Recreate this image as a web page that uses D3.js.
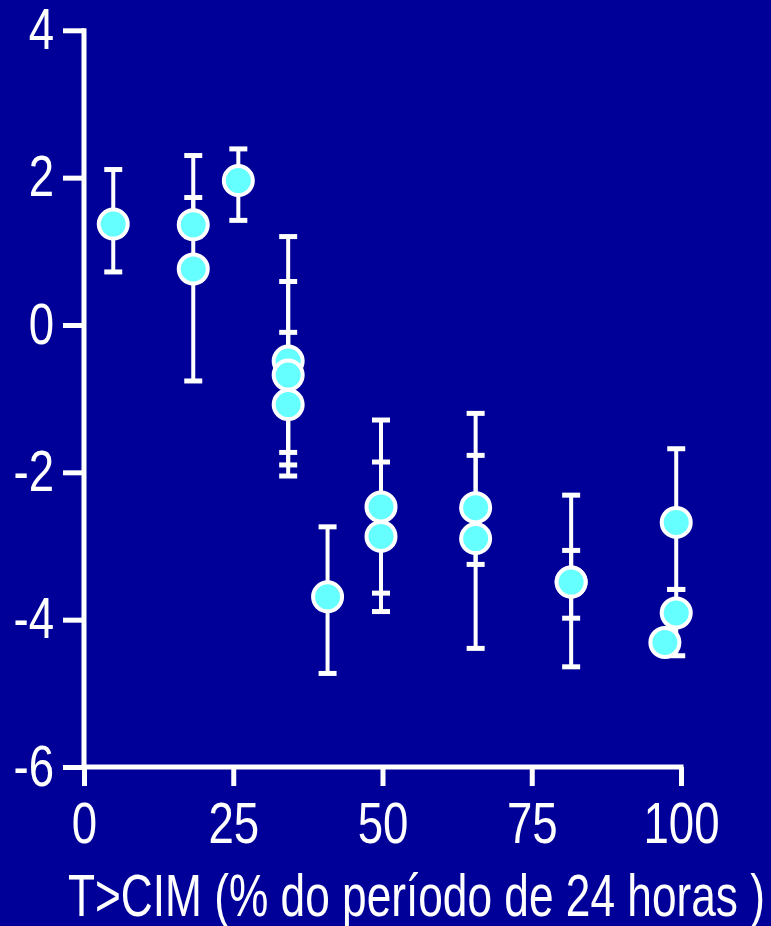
<!DOCTYPE html>
<html>
<head>
<meta charset="utf-8">
<script src="https://cdn.jsdelivr.net/npm/d3@7"></script>
<style>
  html, body { margin: 0; padding: 0; background: #000099; }
  svg { display: block; }
  text { font-family: "Liberation Sans", Arial, sans-serif; fill: #ffffff; }
</style>
</head>
<body>
<svg id="chart" width="771" height="926"></svg>
<script>
// % of the 24-hour period above the MIC, and the measured change for each group
const timeAboveMic = [4.9, 18.3, 18.3, 25.85, 34.2, 34.2, 34.2, 40.8, 49.75, 49.75, 65.6, 65.6, 81.6, 81.6, 99.2, 99.2, 97.3];
const change       = [1.37, 1.36, 0.76, 1.96, -0.49, -0.68, -1.08, -3.69, -2.47, -2.87, -2.48, -2.90, -3.49, -3.49, -2.68, -3.91, -4.31];
const errorHigh    = [2.11, 1.73, 2.30, 2.39, 1.20, 0.59, -0.10, -2.74, -1.29, -1.86, -1.77, -1.20, -3.06, -2.31, -1.68, -3.59, null];
const errorLow     = [0.72, 1.20, -0.76, 1.42, -2.05, -1.90, -1.73, -4.73, -3.64, -3.89, -3.25, -4.39, -3.98, -4.64, -3.59, -4.49, null];

const xTicks = [0, 25, 50, 75, 100];
const yTicks = [-6, -4, -2, 0, 2, 4];
const xTitle = "T>CIM (% do período de 24 horas )";

// narrow lettering: regular sans squeezed horizontally
const squeeze = 0.8;

const svg = d3.select("#chart");

const x = d3.scaleLinear().domain([0, 100]).range([84, 681]);
const y = d3.scaleLinear().domain([-6, 4]).range([767, 30.3]);

// background
svg.append("rect").attr("width", 771).attr("height", 926).attr("fill", "#000099");

// y axis
const yAxis = svg.append("g")
  .attr("transform", "translate(84,0)")
  .call(d3.axisLeft(y).tickValues(yTicks).tickFormat(d3.format("d")).tickSize(21).tickSizeOuter(0).tickPadding(9));
yAxis.select(".domain").remove();
yAxis.selectAll(".tick line").attr("stroke", "#fff").attr("stroke-width", 5);
yAxis.selectAll(".tick text")
  .attr("font-size", 57).attr("fill", "#fff")
  .attr("transform", `scale(${squeeze},1)`)
  .attr("x", -30 / squeeze)
  .text(d => d < 0 ? "-" + Math.abs(d) : d);
svg.append("line").attr("x1", 84).attr("x2", 84).attr("y1", y(4) - 2).attr("y2", y(-6) + 2.5)
  .attr("stroke", "#fff").attr("stroke-width", 5);

// x axis
const xAxis = svg.append("g")
  .attr("transform", "translate(0,767)")
  .call(d3.axisBottom(x).tickValues(xTicks).tickSize(19).tickSizeOuter(0).tickPadding(17));
xAxis.select(".domain").remove();
xAxis.selectAll(".tick line").attr("stroke", "#fff").attr("stroke-width", 5);
xAxis.selectAll(".tick text")
  .attr("font-size", 57).attr("fill", "#fff")
  .attr("transform", `scale(${squeeze},1)`);
svg.append("line").attr("x1", 82).attr("x2", x(100) + 2.5).attr("y1", 767).attr("y2", 767)
  .attr("stroke", "#fff").attr("stroke-width", 5);

// x axis title
svg.append("text")
  .attr("x", 68).attr("y", 916)
  .attr("font-size", 60)
  .attr("textLength", 697)
  .attr("lengthAdjust", "spacingAndGlyphs")
  .text(xTitle);

// error bars
const idx = d3.range(timeAboveMic.length).filter(i => errorHigh[i] !== null);
const bars = svg.append("g").selectAll("g").data(idx).join("g");
bars.append("line")
  .attr("x1", i => x(timeAboveMic[i])).attr("x2", i => x(timeAboveMic[i]))
  .attr("y1", i => y(errorHigh[i])).attr("y2", i => y(errorLow[i]))
  .attr("stroke", "#fff").attr("stroke-width", 4);
["high", "low"].forEach(side => {
  bars.append("line")
    .attr("x1", i => x(timeAboveMic[i]) - 9).attr("x2", i => x(timeAboveMic[i]) + 9)
    .attr("y1", i => y(side === "high" ? errorHigh[i] : errorLow[i]))
    .attr("y2", i => y(side === "high" ? errorHigh[i] : errorLow[i]))
    .attr("stroke", "#fff").attr("stroke-width", 5);
});

// points
svg.append("g").selectAll("circle")
  .data(d3.range(timeAboveMic.length))
  .join("circle")
  .attr("cx", i => x(timeAboveMic[i]))
  .attr("cy", i => y(change[i]))
  .attr("r", 14.5)
  .attr("fill", "#66ffff")
  .attr("stroke", "#fff")
  .attr("stroke-width", 4);
</script>
</body>
</html>
